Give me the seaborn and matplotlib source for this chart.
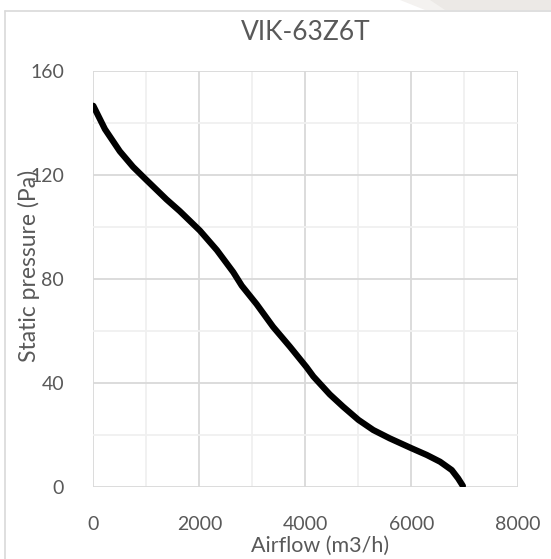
import numpy as np
import pandas as pd
import seaborn as sns
import matplotlib.pyplot as plt
from matplotlib.patches import Rectangle, Polygon
from matplotlib.ticker import MultipleLocator

# fan curve
airflow = [0, 220, 500, 750, 1000, 1380, 1630, 2010, 2330, 2640, 2800, 3080,
           3390, 3710, 4020, 4150, 4460, 4710, 5000, 5280, 5590, 6000,
           6290, 6540, 6760, 6880, 6970]
pressure = [146.5, 137.5, 129, 123, 118, 110.5, 106, 98.5, 91, 82.5, 77.3, 70.2,
            61.5, 53.8, 46, 42.4, 35.5, 30.8, 25.7, 21.8, 18.6, 14.8,
            12.2, 9.6, 6.4, 3.2, 0.3]
x_ticks = [0, 2000, 4000, 6000, 8000]
y_ticks = [0, 40, 80, 120, 160]

df = pd.DataFrame({"airflow": airflow, "pressure": pressure})

sns.set_theme(style="white")
plt.rcParams['font.family'] = ['Lato', 'DejaVu Sans']
text_color = '#595959'

fig = plt.figure(figsize=(5.51, 5.59), dpi=100)
fig.patch.set_facecolor('white')

# grey strip top right + chart frame
fig.patches.append(Rectangle((430/551, 1 - 10/559), 1, 10/559, transform=fig.transFigure,
                             facecolor='#ece9e6', edgecolor='none', zorder=0))
fig.patches.append(Polygon([(400/551, 1), (430/551, 1), (445/551, 1 - 10/559), (425/551, 1 - 10/559)],
                           closed=True, transform=fig.transFigure,
                           facecolor='#f4f2f0', edgecolor='none', zorder=0))
fig.lines.append(plt.Line2D([5/551, 5/551], [0, 1 - 10.7/559], transform=fig.transFigure,
                            color='#d9d9d9', lw=1.2))
fig.lines.append(plt.Line2D([5/551, 1], [1 - 10.7/559, 1 - 10.7/559], transform=fig.transFigure,
                            color='#d9d9d9', lw=1.2))

ax = fig.add_axes([93.3/551, 1 - 486.7/559, (517.5 - 93.3)/551, (486.7 - 70.7)/559])

sns.lineplot(data=df, x="airflow", y="pressure", color='black', linewidth=4.5,
             sort=False, ax=ax, zorder=3)

ax.set_xlim(0, 8000)
ax.set_ylim(0, 160)
ax.set_xticks(x_ticks)
ax.set_yticks(y_ticks)
ax.xaxis.set_minor_locator(MultipleLocator(1000))
ax.yaxis.set_minor_locator(MultipleLocator(20))
ax.grid(True, which='major', color='#d9d9d9', linewidth=1.3)
ax.grid(True, which='minor', color='#f0f0f0', linewidth=1.3)
ax.set_axisbelow(True)
for s in ax.spines.values():
    s.set_visible(False)

ax.tick_params(axis='both', which='both', length=0, labelsize=14, labelcolor=text_color)
ax.tick_params(axis='x', pad=21)
ax.tick_params(axis='y', pad=21)

ax.set_title('VIK-63Z6T', fontsize=19, color=text_color, pad=22)
ax.set_xlabel('Airflow (m3/h)', fontsize=15.5, color=text_color)
ax.set_ylabel('Static pressure (Pa)', fontsize=16.5, color=text_color)
ax.xaxis.set_label_coords(0.535, -0.118)
ax.yaxis.set_label_coords(-0.125, 0.53)

fig.savefig('out.png', dpi=100)
